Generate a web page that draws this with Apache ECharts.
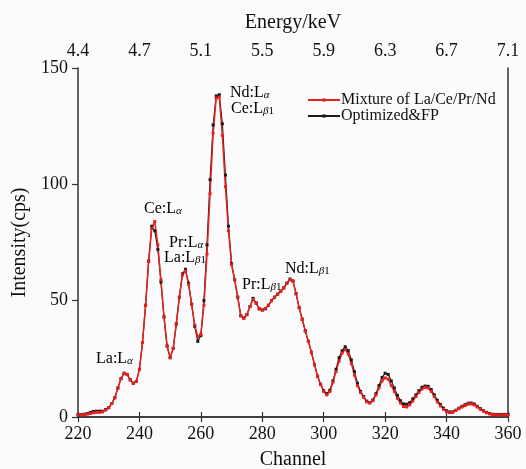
<!DOCTYPE html>
<html lang="en">
<head>
    <meta charset="UTF-8">
    <title>La/Ce/Pr/Nd spectrum</title>
    <script src="https://cdn.jsdelivr.net/npm/echarts@6/dist/echarts.min.js"></script>
    <style>
        html, body { margin: 0; padding: 0; background: #fbfbfb; }
    </style>
</head>
<body>
<div id="myChart" style="width: 526px;height: 469px"></div>
</body>
<script>
    // channel of the first point, one point per channel
    var channelStart = 220;

    // Mixture of La/Ce/Pr/Nd (red)
    var mixture = [
        1.0, 0.8, 1.0, 1.2, 1.5, 1.8, 2.0, 2.0, 2.2, 3.0,
        4.0, 5.8, 8.3, 12.5, 16.5, 18.8, 18.3, 16.0, 14.5, 15.3,
        20.5, 32, 48, 67, 81, 84, 74, 59, 43, 30.5,
        25.5, 29.5, 40, 51.5, 61, 62.8, 57, 48.5, 39.5, 34.5,
        35.5, 48, 70, 96, 122, 137, 137.5, 121, 99, 80,
        65.5, 59, 51.5, 43.5, 42.5, 44, 47.5, 50.5, 49, 46.5,
        46, 46.5, 48, 50, 51.5, 52.8, 54, 55.5, 57.5, 59,
        58.3, 53, 47, 42, 37, 32.5, 27.8, 22.5, 17.5, 14,
        11, 9.5, 11, 15, 19.5, 24, 27.5, 29, 27, 23,
        18, 13.5, 10.5, 8.5, 6.5, 6, 7, 9.5, 12.5, 15.5,
        16.8, 16.3, 13.5, 11, 8, 6, 4.5, 4.3, 5.2, 6.8,
        8.8, 10.5, 12, 12.7, 12.5, 11, 8.8, 6.5, 4.8, 3.3,
        2.3, 1.9, 2.0, 2.8, 3.6, 4.3, 4.9, 5.5, 5.6, 5.2,
        4.3, 3.3, 2.5, 1.8, 1.3, 1.0, 0.9, 0.9, 0.9, 0.9,
        0.9
    ];

    // Optimized&FP (black)
    var optimized = [
        1.0, 1.0, 1.2, 1.5, 2.0, 2.4, 2.5, 2.5, 2.5, 3.2,
        4.0, 5.8, 8.3, 12.5, 16.5, 18.8, 18.3, 16.0, 14.5, 15.3,
        20.5, 32, 48, 67, 82, 80, 72, 58, 43, 30.5,
        25.5, 29.5, 40, 51.5, 61.5, 63.5, 57.5, 48.5, 39, 32.5,
        35, 50, 74, 102, 125.5, 138, 138.5, 126, 104, 82,
        66, 59, 51.5, 43.5, 42.5, 44, 47.5, 51, 49, 46.5,
        46, 46.5, 48, 50, 51.5, 52.8, 54, 55.5, 57.5, 59.3,
        58.5, 53, 47, 42, 37, 32.5, 27.8, 22.5, 17.5, 14,
        11.3, 10, 11.5, 15.5, 20.5, 25.5, 28.5, 30.2, 28.5, 24.5,
        19.5, 14.5, 11, 8.8, 6.8, 6.2, 7.3, 10, 13.5, 17,
        18.8, 18.3, 15.5, 12.5, 9.3, 7, 5.6, 5.5, 6.2, 7.8,
        9.5, 11.3, 12.8, 13.3, 13.2, 11.8, 9.5, 7.2, 5.4, 3.8,
        2.7, 2.2, 2.2, 2.9, 3.8, 4.6, 5.3, 5.9, 6.0, 5.6,
        4.6, 3.6, 2.7, 2.0, 1.5, 1.2, 1.1, 1.1, 1.1, 1.1,
        1.1
    ];

    // top axis labels, one per bottom tick
    var energyLabels = ['4.4', '4.7', '5.1', '5.5', '5.9', '6.3', '6.7', '7.1'];

    var serif = 'Liberation Serif';
    var axisColor = '#333';

    function toPairs(values) {
        return values.map(function (v, i) {
            return [channelStart + i, v];
        });
    }

    // rich text helpers for element labels with subscripts
    var richStyle = {
        m: {fontFamily: serif, fontSize: 16, color: '#111', lineHeight: 16},
        g: {fontFamily: serif, fontSize: 11, fontStyle: 'italic', color: '#111', lineHeight: 8, verticalAlign: 'bottom'},
        n: {fontFamily: serif, fontSize: 11, color: '#111', lineHeight: 8, verticalAlign: 'bottom'}
    };

    function label(x, y, el, line) {
        var txt = '{m|' + el + ':L}' + (line === 'a' ? '{g|α}' : '{g|β}{n|1}');
        return {
            type: 'text',
            left: x,
            top: y,
            style: {
                text: txt,
                rich: richStyle
            }
        };
    }

    var myChart = echarts.init(document.getElementById('myChart'));
    myChart.setOption({
        animation: false,
        backgroundColor: '#fbfbfb',
        grid: {
            left: 78,
            right: 18,
            top: 68,
            bottom: 52,
            outerBoundsMode: 'none'
        },
        legend: {
            orient: 'vertical',
            left: 302,
            top: 87,
            itemWidth: 32,
            itemHeight: 4,
            itemGap: 0,
            data: ['Mixture of La/Ce/Pr/Nd', 'Optimized&FP'],
            textStyle: {
                fontFamily: serif,
                fontSize: 16,
                color: '#111',
                lineHeight: 16,
                padding: [0, 0, 0, -4]
            }
        },
        xAxis: [{
            type: 'value',
            position: 'bottom',
            min: 220,
            max: 360,
            interval: 20,
            name: 'Channel',
            nameLocation: 'middle',
            nameGap: 33,
            nameTextStyle: {fontFamily: serif, fontSize: 20, color: '#111'},
            axisLine: {lineStyle: {color: axisColor, width: 1.5}},
            axisTick: {length: 5, lineStyle: {color: axisColor, width: 1.2}},
            axisLabel: {fontFamily: serif, fontSize: 18, color: '#111', margin: 8},
            splitLine: {show: false}
        }, {
            type: 'value',
            position: 'top',
            min: 220,
            max: 360,
            interval: 20,
            name: 'Energy/keV',
            nameLocation: 'middle',
            nameGap: 35,
            nameTextStyle: {fontFamily: serif, fontSize: 20, color: '#111'},
            axisLine: {lineStyle: {color: axisColor, width: 1.5}},
            axisTick: {length: 5, lineStyle: {color: axisColor, width: 1.2}},
            axisLabel: {
                fontFamily: serif,
                fontSize: 18,
                color: '#111',
                margin: 8,
                formatter: function (v) {
                    return energyLabels[Math.round((v - 220) / 20)];
                }
            },
            splitLine: {show: false}
        }],
        yAxis: [{
            type: 'value',
            position: 'left',
            min: 0,
            max: 150,
            interval: 50,
            name: 'Intensity(cps)',
            nameLocation: 'middle',
            nameGap: 46,
            nameTextStyle: {fontFamily: serif, fontSize: 20, color: '#111'},
            axisLine: {show: true, lineStyle: {color: axisColor, width: 1.5}},
            axisTick: {show: true, length: 6, lineStyle: {color: axisColor, width: 1.2}},
            axisLabel: {fontFamily: serif, fontSize: 18, color: '#111', margin: 10},
            splitLine: {show: false}
        }, {
            type: 'value',
            position: 'right',
            min: 0,
            max: 150,
            interval: 50,
            axisLine: {show: true, lineStyle: {color: axisColor, width: 1.5}},
            axisTick: {show: false},
            axisLabel: {show: false},
            splitLine: {show: false}
        }],
        series: [{
            name: 'Optimized&FP',
            type: 'line',
            data: toPairs(optimized),
            symbol: 'rect',
            symbolSize: 3,
            showAllSymbol: true,
            lineStyle: {color: '#1a1a1a', width: 1.2},
            itemStyle: {color: '#1a1a1a'}
        }, {
            name: 'Mixture of La/Ce/Pr/Nd',
            type: 'line',
            data: toPairs(mixture),
            symbol: 'rect',
            symbolSize: 3,
            showAllSymbol: true,
            lineStyle: {color: '#e8201e', width: 1.5},
            itemStyle: {color: '#e8201e'}
        }],
        graphic: [
            label(96, 351, 'La', 'a'),
            label(144, 201, 'Ce', 'a'),
            label(169, 235, 'Pr', 'a'),
            label(164, 250, 'La', 'b'),
            label(230, 85, 'Nd', 'a'),
            label(231, 101, 'Ce', 'b'),
            label(242, 277, 'Pr', 'b'),
            label(285, 261, 'Nd', 'b')
        ]
    });
</script>
</html>
